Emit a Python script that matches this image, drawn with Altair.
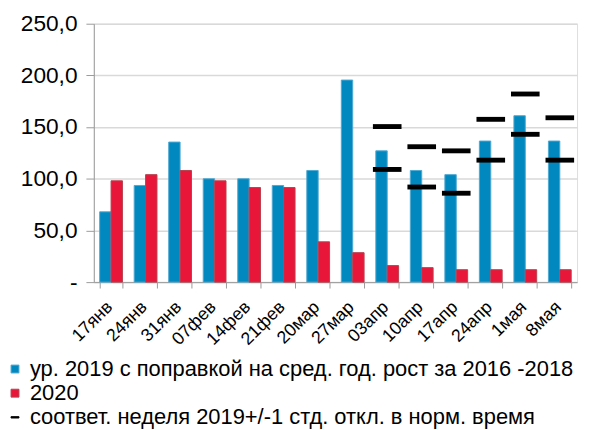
import altair as alt
import pandas as pd

categories = ["17янв", "24янв", "31янв", "07фев", "14фев", "21фев", "20мар",
              "27мар", "03апр", "10апр", "17апр", "24апр", "1мая", "8мая"]
adjusted_2019 = [68, 93.5, 135.5, 100, 100, 93.5, 108, 195.5, 127, 108, 104, 136.5, 161, 136.5]
actual_2020 = [98, 104, 108, 98, 91.5, 91.5, 39, 28.5, 16, 14, 12, 12, 12, 12]
band_categories = ["03апр", "10апр", "17апр", "24апр", "1мая", "8мая"]
band_upper = [150.5, 131, 127, 157.5, 182, 159]
band_lower = [109, 92, 86, 118, 143, 118]
series_names = ["ур. 2019 с поправкой на сред. год. рост за 2016 -2018",
                "2020",
                "соответ. неделя 2019+/-1 стд. откл. в норм. время"]
series_colors = ["#0088BF", "#E8173A", "#000000"]
series_outline = ["#4FA9D2", "#B8404E", "#000000"]

bars = pd.DataFrame(
    [{"cat": c, "series": series_names[0], "value": v} for c, v in zip(categories, adjusted_2019)]
    + [{"cat": c, "series": series_names[1], "value": v} for c, v in zip(categories, actual_2020)]
)
dashes = pd.DataFrame(
    [{"cat": c, "series": series_names[2], "value": v} for c, v in zip(band_categories, band_upper)]
    + [{"cat": c, "series": series_names[2], "value": v} for c, v in zip(band_categories, band_lower)]
)

FONT = "Liberation Sans"
dash_path = "M-1,-0.17L1,-0.17L1,0.17L-1,0.17Z"

x_enc = alt.X("cat:N", sort=categories,
              scale=alt.Scale(domain=categories, paddingInner=0.34, paddingOuter=0.17),
              axis=alt.Axis(title=None, labelAngle=-45, labelFontSize=18, labelColor="#000000",
                            labelFont=FONT, tickBand="extent", tickSize=6, tickColor="#9a9a9a",
                            domainColor="#9a9a9a", labelPadding=10, labelAlign="right",
                            labelBaseline="top", labelOffset=-8))
y_enc = alt.Y("value:Q", scale=alt.Scale(domain=[0, 250]),
              axis=alt.Axis(title=None, values=[0, 50, 100, 150, 200, 250],
                            labelExpr="datum.value == 0 ? '-' : replace(format(datum.value, '.1f'), '.', ',')",
                            labelFontSize=23, labelFont=FONT, labelColor="#000000",
                            gridColor="#d9d9d9", gridWidth=1.5, tickSize=8, tickColor="#9a9a9a",
                            domainColor="#9a9a9a", labelPadding=9))
legend = alt.Legend(orient="none", legendX=-91, legendY=339, direction="vertical",
                    title=None, labelFontSize=22.2, labelFont=FONT,
                    labelColor="#000000", symbolSize=64, labelLimit=0,
                    rowPadding=1.5, labelOffset=4, symbolStrokeWidth=1)
color_enc = alt.Color("series:N", scale=alt.Scale(domain=series_names, range=series_colors),
                      legend=legend)
stroke_enc = alt.Stroke("series:N", scale=alt.Scale(domain=series_names, range=series_outline),
                        legend=legend)

bar_layer = alt.Chart(bars).mark_bar(strokeWidth=1).encode(
    x=x_enc,
    xOffset=alt.XOffset("series:N", scale=alt.Scale(domain=series_names[:2])),
    y=y_enc,
    color=color_enc,
    stroke=stroke_enc,
)
dash_layer = alt.Chart(dashes).mark_point(filled=True, size=841, opacity=1, strokeWidth=0).encode(
    x=x_enc,
    y=y_enc,
    color=color_enc,
    shape=alt.Shape("series:N", scale=alt.Scale(domain=series_names,
                                                  range=["square", "square", dash_path]),
                    legend=legend),
)

chart = alt.layer(bar_layer, dash_layer).properties(
    width=490, height=262,
    autosize=alt.AutoSizeParams(type="none"),
    padding={"left": 87, "top": 13, "right": 5, "bottom": 147},
).configure_view(stroke=None).configure(font=FONT)

chart.save("out.html", embed_options={"renderer": "svg", "actions": False})
